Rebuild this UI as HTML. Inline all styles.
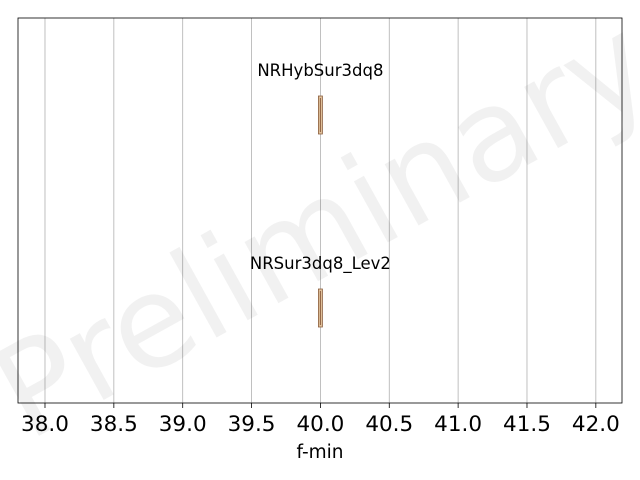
<!DOCTYPE html>
<html><head><meta charset="utf-8"><style>body{margin:0;background:#fff}svg{display:block;font-family:"DejaVu Sans","Liberation Sans",sans-serif}</style></head>
<body>
<svg id="c" width="640" height="480"></svg>
<script>
const ticks=[38.0,38.5,39.0,39.5,40.0,40.5,41.0,41.5,42.0];
const names=["NRHybSur3dq8","NRSur3dq8_Lev2"];
const values=[40.0,40.0];
const xmin=37.804,xmax=42.19,L=18,R=622,T=18,B=403;
const x=v=>L+(v-xmin)/(xmax-xmin)*(R-L);
const rowY=[115,308];
const svg=document.getElementById('c');
const NS='http://www.w3.org/2000/svg';
function mk(t,a,p){const e=document.createElementNS(NS,t);for(const k in a)e.setAttribute(k,a[k]);(p||svg).appendChild(e);return e;}
mk('rect',{x:L,y:T,width:R-L,height:B-T,fill:'#fff'});
ticks.forEach(t=>{
 const g=mk('line',{x1:x(t),x2:x(t),y1:T,y2:B,stroke:'#b0b0b0','stroke-width':0.8});
 
 
 const tk=mk('line',{x1:x(t),x2:x(t),y1:B,y2:B+5,stroke:'#000','stroke-width':0.8});
 
 
 const lb=mk('text',{x:x(t),y:B+28,'font-size':21.5,'text-anchor':'middle',fill:'#000'});
 lb.textContent=t.toFixed(1);
 
 
});
const wm=mk('text',{x:0,y:0,'font-size':128,fill:'#000','fill-opacity':0.055,transform:'translate(28,442) rotate(-29)'});
wm.textContent='Preliminary';


names.forEach((n,i)=>{
 const cy=rowY[i];
 const b=mk('rect',{x:x(values[i])-2,y:cy-19,width:4,height:38,fill:'#e0c09a',stroke:'#8c6040','stroke-width':0.8});
 
 
 const ln=mk('line',{x1:x(values[i]),x2:x(values[i]),y1:cy-17,y2:cy+17,stroke:'#8c6040','stroke-width':1});
 
 
 const t=mk('text',{x:x(values[i]),y:cy-39,'font-size':16.5,'text-anchor':'middle',fill:'#000'});
 t.textContent=n;
 
 
});
const fr=mk('rect',{x:L,y:T,width:R-L,height:B-T,fill:'none',stroke:'#000','stroke-width':0.8});


const xt=mk('text',{x:(L+R)/2,y:458,'font-size':18.5,'text-anchor':'middle',fill:'#000'});
xt.textContent='f-min';


</script>
</body></html>
